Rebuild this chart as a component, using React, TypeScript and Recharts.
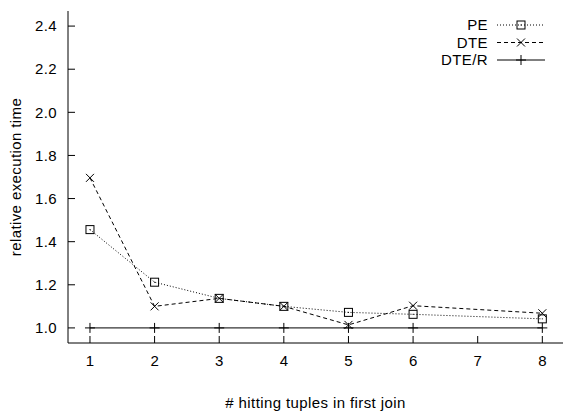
import React from 'react';
import { LineChart, Line, XAxis, YAxis, Legend } from 'recharts';

const hits = [1, 2, 3, 4, 5, 6, 8];
const peTimes = [1.456, 1.212, 1.137, 1.1, 1.072, 1.063, 1.042];
const dteTimes = [1.696, 1.1, 1.137, 1.1, 1.014, 1.103, 1.068];
const dterTimes = [1.0, 1.0, 1.0, 1.0, 1.0, 1.0, 1.0];
const seriesNames = ['PE', 'DTE', 'DTE/R'];
const xTicks = [1, 2, 3, 4, 5, 6, 7, 8];
const yTicks = [1.0, 1.2, 1.4, 1.6, 1.8, 2.0, 2.2, 2.4];

const data = hits.map((h, i) => ({
	hits: h,
	pe: peTimes[i],
	dte: dteTimes[i],
	dter: dterTimes[i],
}));

const FONT = '"Liberation Sans", Arial, Helvetica, sans-serif';
const FS = 15;
const LS = 0.4;
const INK = '#000';

function Marker({ kind, cx, cy }: { kind: string; cx: number; cy: number }) {
	if (kind === 'square') {
		return (
			<g>
				<rect x={cx - 4} y={cy - 4} width={8} height={8} fill="none" stroke={INK} strokeWidth={1} />
				<rect x={cx - 0.5} y={cy - 0.5} width={1} height={1} fill={INK} />
			</g>
		);
	}
	if (kind === 'cross') {
		return (
			<g stroke={INK} strokeWidth={1}>
				<line x1={cx - 4} y1={cy - 4} x2={cx + 4} y2={cy + 4} />
				<line x1={cx - 4} y1={cy + 4} x2={cx + 4} y2={cy - 4} />
			</g>
		);
	}
	return (
		<g stroke={INK} strokeWidth={1}>
			<line x1={cx - 5} y1={cy} x2={cx + 5} y2={cy} />
			<line x1={cx} y1={cy - 5} x2={cx} y2={cy + 5} />
		</g>
	);
}

const dotOf = (kind: string) => (props: any) => (
	<Marker key={`${kind}-${props.index}`} kind={kind} cx={props.cx} cy={props.cy} />
);

const legendStyle: Record<string, { dash?: string; kind: string }> = {
	PE: { dash: '1 2', kind: 'square' },
	DTE: { dash: '4 3', kind: 'cross' },
	'DTE/R': { kind: 'plus' },
};

function GnuLegend({ payload }: any) {
	const items = [...(payload || [])].sort(
		(a: any, b: any) => seriesNames.indexOf(a.value) - seriesNames.indexOf(b.value)
	);
	return (
		<svg width={170} height={56}>
			{items.map((entry: any, i: number) => {
				const st = legendStyle[entry.value] || { kind: 'plus' };
				const cy = 10 + i * 17.5;
				return (
					<g key={entry.value}>
						<text
							x={108}
							y={cy + 5.2}
							textAnchor="end"
							fontFamily={FONT}
							fontSize={FS}
							letterSpacing={LS}
							fill={INK}
						>
							{entry.value}
						</text>
						<line x1={117} x2={165} y1={cy} y2={cy} stroke={INK} strokeWidth={1} strokeDasharray={st.dash} />
						<Marker kind={st.kind} cx={141} cy={cy} />
					</g>
				);
			})}
		</svg>
	);
}

const BottomTick = ({ x, y, payload }: any) => (
	<g>
		<line x1={x} x2={x} y1={y} y2={y - 7} stroke={INK} />
		<text x={x} y={y + 23} textAnchor="middle" fontFamily={FONT} fontSize={FS} fill={INK}>
			{payload.value}
		</text>
	</g>
);

const TopTick = ({ x, y }: any) => <line x1={x} x2={x} y1={y} y2={y + 7} stroke={INK} />;

const LeftTick = ({ x, y, payload }: any) => (
	<g>
		<line x1={x} x2={x + 7} y1={y} y2={y} stroke={INK} />
		<text
			x={x - 11}
			y={y + 5.2}
			textAnchor="end"
			fontFamily={FONT}
			fontSize={FS}
			letterSpacing={LS}
			fill={INK}
		>
			{Number(payload.value).toFixed(1)}
		</text>
	</g>
);

const RightTick = ({ x, y }: any) => <line x1={x} x2={x - 7} y1={y} y2={y} stroke={INK} />;

export default function App() {
	return (
		<div style={{ position: 'absolute', left: 0, top: 0, width: 565, height: 414, background: '#fff' }}>
			<LineChart width={565} height={414} data={data} margin={{ top: 11, right: 2, left: 0, bottom: 0 }}>
				<XAxis
					xAxisId="bottom"
					dataKey="hits"
					type="number"
					domain={[0.66, 8.32]}
					ticks={xTicks}
					allowDataOverflow
					height={71}
					tickSize={0}
					tickMargin={0}
					tickLine={false}
					tick={<BottomTick />}
					axisLine={{ stroke: INK }}
					label={{
						value: '# hitting tuples in first join',
						position: 'insideBottom',
						offset: 6,
						style: { fontFamily: FONT, fontSize: FS, letterSpacing: LS, fill: INK },
					}}
				/>
				<XAxis
					xAxisId="top"
					orientation="top"
					dataKey="hits"
					type="number"
					domain={[0.66, 8.32]}
					ticks={xTicks}
					allowDataOverflow
					height={0}
					tickSize={0}
					tickMargin={0}
					tickLine={false}
					tick={<TopTick />}
					axisLine={{ stroke: INK }}
				/>
				<YAxis
					yAxisId="left"
					type="number"
					domain={[0.93, 2.47]}
					ticks={yTicks}
					allowDataOverflow
					width={68}
					tickSize={0}
					tickMargin={0}
					tickLine={false}
					tick={<LeftTick />}
					axisLine={{ stroke: INK }}
					label={{
						value: 'relative execution time',
						angle: -90,
						position: 'insideLeft',
						offset: 16,
						style: { textAnchor: 'middle', fontFamily: FONT, fontSize: FS, letterSpacing: LS, fill: INK },
					}}
				/>
				<YAxis
					yAxisId="right"
					orientation="right"
					type="number"
					domain={[0.93, 2.47]}
					ticks={yTicks}
					allowDataOverflow
					width={0}
					tickSize={0}
					tickMargin={0}
					tickLine={false}
					tick={<RightTick />}
					axisLine={{ stroke: INK }}
				/>
				<Legend
					layout="vertical"
					align="center"
					verticalAlign="middle"
					wrapperStyle={{ left: 380, top: 15, width: 170, height: 56 }}
					content={<GnuLegend />}
				/>
				<Line
					xAxisId="bottom"
					yAxisId="left"
					dataKey="pe"
					name="PE"
					stroke={INK}
					strokeWidth={1}
					strokeDasharray="1 2"
					dot={dotOf('square')}
					isAnimationActive={false}
				/>
				<Line
					xAxisId="bottom"
					yAxisId="left"
					dataKey="dte"
					name="DTE"
					stroke={INK}
					strokeWidth={1}
					strokeDasharray="4 3"
					dot={dotOf('cross')}
					isAnimationActive={false}
				/>
				<Line
					xAxisId="bottom"
					yAxisId="left"
					dataKey="dter"
					name="DTE/R"
					stroke={INK}
					strokeWidth={1}
					dot={dotOf('plus')}
					isAnimationActive={false}
				/>
			</LineChart>
		</div>
	);
}
